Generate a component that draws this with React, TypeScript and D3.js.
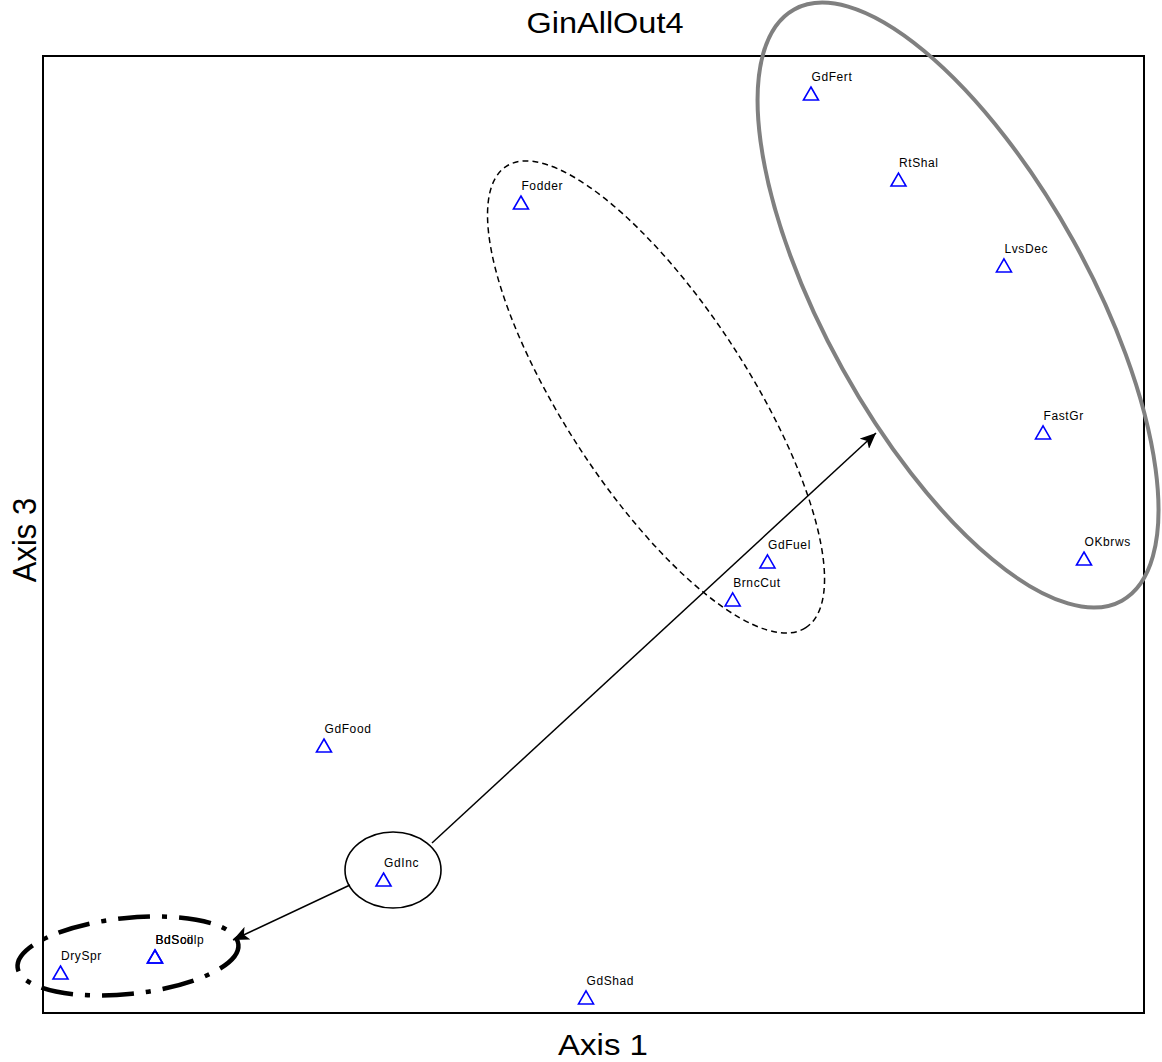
import React from 'react';
import * as d3 from 'd3';

const W = 1162;
const H = 1062;

// Point data (axis 1 / axis 3 scores, arbitrary 0-100 units)
const pointNames = ['GdFert', 'RtShal', 'LvsDec', 'Fodder', 'FastGr', 'OKbrws', 'GdFuel', 'BrncCut', 'GdFood', 'GdInc', 'DrySpr', 'BdSoil', 'BdScolp', 'GdShad'];
const axis1Values = [69.75, 77.70, 87.28, 43.41, 90.83, 94.55, 65.80, 62.64, 25.52, 30.93, 1.59, 10.17, 10.17, 49.32];
const axis3Values = [96.03, 87.04, 78.06, 84.64, 60.61, 47.44, 47.13, 43.16, 27.90, 13.90, 4.18, 5.85, 5.85, 1.57];

// Group ellipses (centre in data units, semi-axes in axis-1 units, rotation in degrees)
const ellipseNames = ['fastGroup', 'fodderGroup', 'incGroup', 'badGroup'];
const ellipseCx = [83.11, 55.68, 31.79, 7.72];
const ellipseCy = [73.98, 64.37, 14.94, 5.96];
const ellipseA = [30.70, 24.98, 4.36, 10.08];
const ellipseB = [11.99, 8.36, 3.45, 3.45];
const ellipseAngle = [61, 57, 0, -6];

// Arrows
const arrowX1 = [35.33, 27.88];
const arrowY1 = [17.76, 13.38];
const arrowX2 = [75.66, 17.26];
const arrowY2 = [60.61, 7.63];

const FONT = '"Liberation Sans", Arial, Helvetica, sans-serif';

export default function App() {
  const x = d3.scaleLinear().domain([0, 100]).range([43, 1144]);
  const y = d3.scaleLinear().domain([0, 100]).range([1013, 56]);
  const pxPerUnit = x(1) - x(0);

  const ellipseStyles = [
    { stroke: '#808080', strokeWidth: 4, dash: undefined as string | undefined },
    { stroke: '#000', strokeWidth: 1.5, dash: '6 4' },
    { stroke: '#000', strokeWidth: 1.6, dash: undefined },
    { stroke: '#000', strokeWidth: 4.5, dash: '32 12 5 12' },
  ];

  const tri = 'M0,-7 L7.5,6 L-7.5,6 Z';

  return (
    <svg width={W} height={H} style={{ position: 'absolute', left: 0, top: 0, background: '#fff' }} fontFamily={FONT}>
      <defs>
        <marker id="arrowhead" markerUnits="userSpaceOnUse" markerWidth={18} markerHeight={14} refX={16} refY={7} orient="auto">
          <path d="M0,0 L16,7 L0,14 L4,7 Z" fill="#000" />
        </marker>
      </defs>
      <rect x={0} y={0} width={W} height={H} fill="#fff" />
      {/* frame */}
      <rect x={x(0)} y={y(100)} width={x(100) - x(0)} height={y(0) - y(100)} fill="none" stroke="#000" strokeWidth={2} />

      {/* title and axis titles */}
      <text transform={`translate(605,33) scale(1.12,1)`} textAnchor="middle" fontSize={29} fill="#000">GinAllOut4</text>
      <text transform={`translate(603,1055) scale(1.1,1)`} textAnchor="middle" fontSize={30} fill="#000">Axis 1</text>
      <text transform={`translate(36,540) rotate(-90) scale(1.0,1.1)`} textAnchor="middle" fontSize={31} fill="#000">Axis 3</text>

      {/* ellipses */}
      {ellipseNames.map((n, i) => {
        const cx = x(ellipseCx[i]);
        const cy = y(ellipseCy[i]);
        const s = ellipseStyles[i];
        return (
          <ellipse key={n} cx={cx} cy={cy} rx={ellipseA[i] * pxPerUnit} ry={ellipseB[i] * pxPerUnit}
            transform={`rotate(${ellipseAngle[i]},${cx},${cy})`} fill="none" stroke={s.stroke}
            strokeWidth={s.strokeWidth} strokeDasharray={s.dash} />
        );
      })}

      {/* arrows */}
      {arrowX1.map((_, i) => (
        <line key={i} x1={x(arrowX1[i])} y1={y(arrowY1[i])} x2={x(arrowX2[i])} y2={y(arrowY2[i])}
          stroke="#000" strokeWidth={1.5} markerEnd="url(#arrowhead)" />
      ))}

      {/* points */}
      {pointNames.map((n, i) => {
        const px = x(axis1Values[i]);
        const py = y(axis3Values[i]);
        return (
          <g key={n} transform={`translate(${px},${py})`}>
            <path d={tri} fill="none" stroke="#0000ff" strokeWidth={1.6} />
            <text x={0.5} y={-13} fontSize={12} letterSpacing={0.6} fill="#000">{n}</text>
          </g>
        );
      })}
    </svg>
  );
}
